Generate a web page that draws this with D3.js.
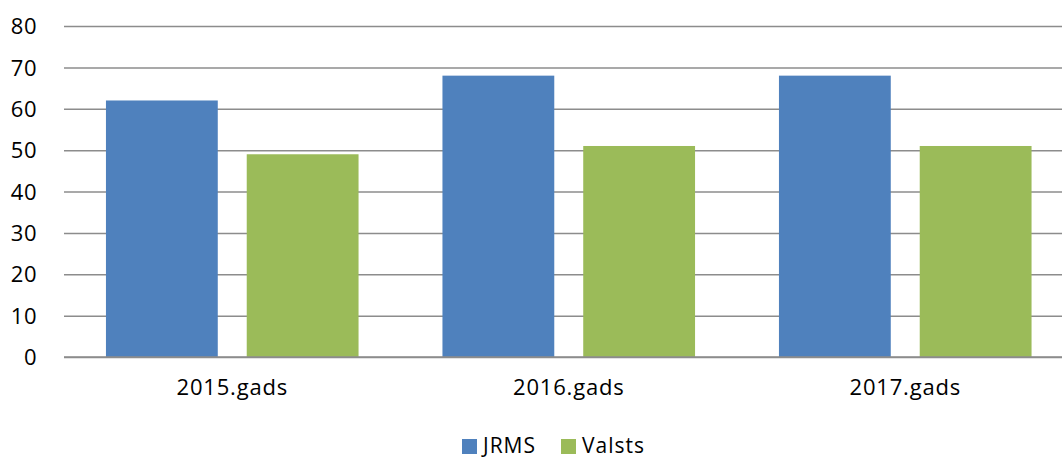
<!DOCTYPE html>
<html><head><meta charset="utf-8">
<script src="https://cdn.jsdelivr.net/npm/d3@7"></script>
<style>body{margin:0;background:#fff}svg{display:block}text{font-family:"Open Sans",sans-serif;fill:#000}</style>
</head><body><svg id="c" width="1062" height="459"></svg>
<script>
const categories = ["2015.gads", "2016.gads", "2017.gads"];
const seriesNames = ["JRMS", "Valsts"];
const jrms = [62, 68, 68];
const valsts = [49, 51, 51];
const yTicks = [0, 10, 20, 30, 40, 50, 60, 70, 80];
const colors = ["#4F81BD", "#9BBB59"];

const svg = d3.select("#c");
const x0 = 64, x1 = 1073.5, yTop = 26, yBot = 357;
const x = d3.scaleBand().domain(categories).range([x0, x1]).paddingInner(0).paddingOuter(0);
const xs = d3.scaleBand().domain(seriesNames).range([0, x.bandwidth()]).paddingInner(0.2057).paddingOuter(0.298);
const y = d3.scaleLinear().domain([0, 80]).range([yBot, yTop]);

const yAxis = d3.axisLeft(y).tickValues(yTicks).tickSize(-(x1 - x0)).tickPadding(27);
const gy = svg.append("g").attr("transform", `translate(${x0},0)`).call(yAxis);
gy.select(".domain").remove();
gy.selectAll(".tick line").attr("stroke", "#8c8c8c").attr("stroke-width", 1.5);
gy.selectAll(".tick text").style("font-size", "22px").style("letter-spacing", "0.5px").attr("dy", "0.35em");

const data = [jrms, valsts];
categories.forEach((c, i) => {
  seriesNames.forEach((s, j) => {
    svg.append("rect")
      .attr("x", x(c) + xs(s)).attr("width", xs.bandwidth())
      .attr("y", y(data[j][i])).attr("height", y(0) - y(data[j][i]))
      .attr("fill", colors[j]);
  });
});

svg.append("line").attr("x1", x0).attr("x2", x1).attr("y1", y(0)).attr("y2", y(0))
  .attr("stroke", "#8c8c8c").attr("stroke-width", 1.5);

const xAxis = d3.axisBottom(x).tickSize(0).tickPadding(22);
const gx = svg.append("g").attr("transform", `translate(0,${yBot})`).call(xAxis);
gx.select(".domain").remove();
gx.selectAll(".tick text").style("font-size", "22px").style("letter-spacing", "0.8px");

// legend
const leg = svg.append("g");
const legX = [462, 561];
seriesNames.forEach((s, j) => {
  leg.append("rect").attr("x", legX[j]).attr("y", 439).attr("width", 15).attr("height", 15).attr("fill", colors[j]);
  leg.append("text").attr("x", legX[j] + 21).attr("y", 453).style("font-size", "21px").style("letter-spacing", "1px").text(s);
});
</script></body></html>
